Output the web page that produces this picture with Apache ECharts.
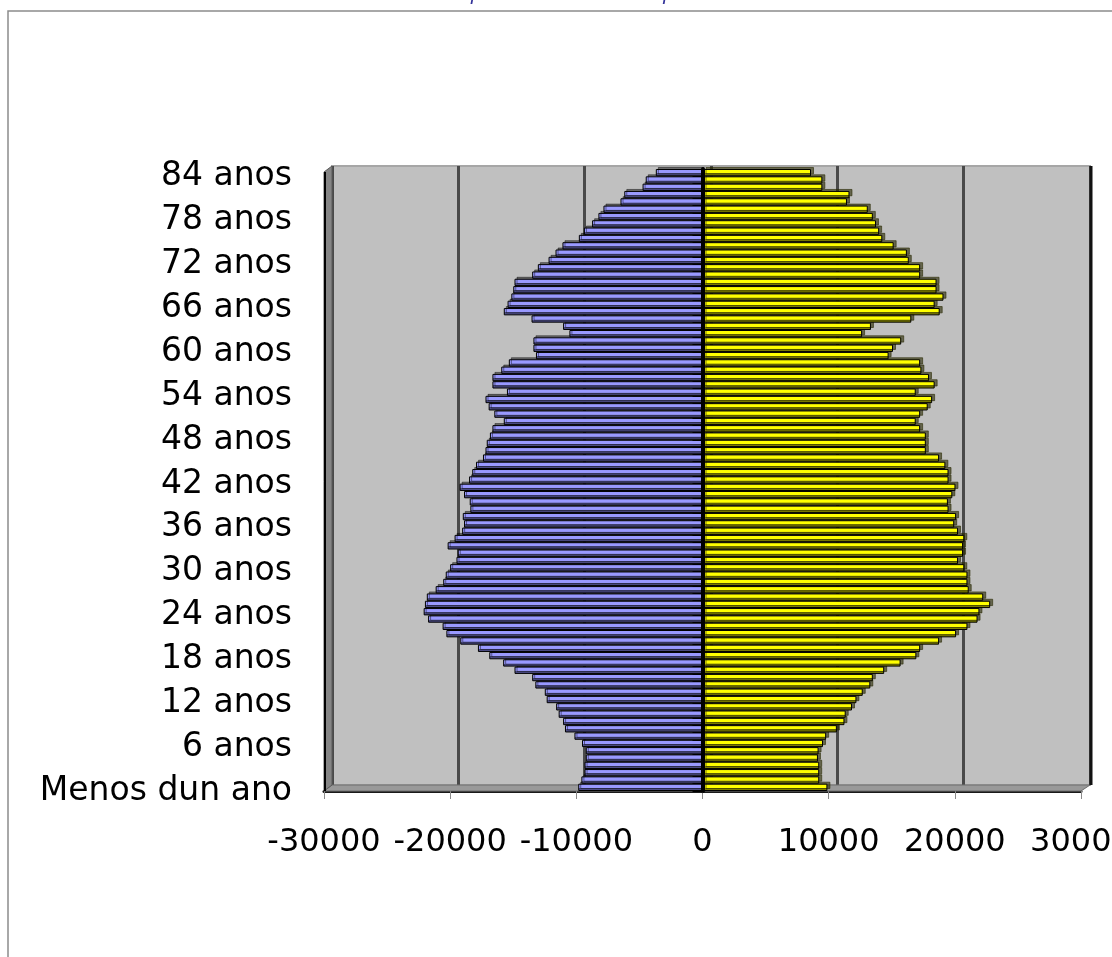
<!DOCTYPE html>
<html>
<head>
<meta charset="utf-8">
<script src="https://cdn.jsdelivr.net/npm/echarts@6/dist/echarts.min.js"></script>
<style>
html,body{margin:0;padding:0;background:#ffffff;}
#chart{width:1112px;height:957px;}
</style>
</head>
<body>
<div id="chart"></div>
<script>
// ---- DATA (index 0 = "Menos dun ano" ... index 84 = "84 anos") ----
const ageCategories = [];
for (let i = 0; i <= 84; i++) {
  ageCategories.push(i === 0 ? 'Menos dun ano' : (i === 1 ? '1 ano' : i + ' anos'));
}

// Homes (blue, drawn to the left as negative values)
const homes = [
  -9850, -9600, -9350, -9350, -9250, -9250, -9550, -10150, -10900, -11050,
  -11400, -11600, -12350, -12500, -13250, -13500, -14900, -15800, -16900, -17800,
  -19200, -20300, -20600, -21750, -22100, -22000, -21850, -21150, -20550, -20350,
  -20000, -19500, -19400, -20200, -19650, -19050, -18900, -19000, -18400, -18450,
  -18900, -19250, -18500, -18250, -17950, -17400, -17200, -17100, -16850, -16650,
  -15750, -16500, -16950, -17200, -15500, -16650, -16650, -15950, -15350, -13200,
  -13400, -13400, -10550, -11050, -13550, -15750, -15450, -15150, -15000, -14900,
  -13500, -13050, -12200, -11650, -11100, -9800, -9400, -8750, -8250, -7850,
  -6500, -6200, -4750, -4500, -3700
];

// Mulleres (yellow, drawn to the right)
const mulleres = [
  9900, 9250, 9250, 9250, 9150, 9200, 9550, 9800, 10650, 11250,
  11350, 11850, 12200, 12700, 13300, 13500, 14400, 15700, 16950, 17250,
  18750, 20100, 21000, 21800, 21950, 22800, 22250, 21100, 21000, 21000,
  20750, 20250, 20650, 20650, 20750, 20250, 19950, 20100, 19500, 19450,
  19800, 20050, 19500, 19500, 19250, 18750, 17700, 17700, 17700, 17250,
  16900, 17250, 17850, 18200, 16900, 18400, 17950, 17350, 17250, 14750,
  15100, 15750, 12650, 13350, 16550, 18800, 18400, 19100, 18550, 18550,
  17250, 17250, 16350, 16200, 15150, 14250, 14000, 13750, 13500, 13100,
  11450, 11650, 9500, 9500, 8600
];

const xMin = -30000;
const xMax = 30000;
const xStep = 10000;
const titleText = 'Pirámide de poboación de Galicia por idade e sexo';

// ---- LAYOUT (3D-like Excel look: front plane and back wall) ----
const FRONT = {left: 324, top: 169, width: 757, height: 622};
const BACK = {left: 332, top: 166, width: 758, height: 619};
const LABELS = {left: 324, top: 173, width: 757, height: 622};
const fB = FRONT.top + FRONT.height;      // front bottom
const bB = BACK.top + BACK.height;        // back bottom
const fR = FRONT.left + FRONT.width;
const bR = BACK.left + BACK.width;
const FONT = 'DejaVu Sans';

function grad(light, dark) {
  return {
    type: 'linear', x: 0, y: 0, x2: 0, y2: 1,
    colorStops: [
      {offset: 0, color: light},
      {offset: 0.58, color: light},
      {offset: 0.58, color: dark},
      {offset: 1, color: dark}
    ]
  };
}

const chart = echarts.init(document.getElementById('chart'), null, {renderer: 'canvas'});

const option = {
  animation: false,
  backgroundColor: '#ffffff',
  grid: [
    {left: BACK.left, top: BACK.top, width: BACK.width, height: BACK.height,
     show: true, backgroundColor: '#C0C0C0', borderColor: '#A6A6A6', borderWidth: 2,
     containLabel: false, outerBoundsMode: 'none'},
    {left: FRONT.left, top: FRONT.top, width: FRONT.width, height: FRONT.height,
     containLabel: false, outerBoundsMode: 'none'},
    {left: LABELS.left, top: LABELS.top, width: LABELS.width, height: LABELS.height,
     containLabel: false, outerBoundsMode: 'none'}
  ],
  xAxis: [
    {gridIndex: 0, type: 'value', min: xMin, max: xMax, interval: xStep,
     axisLine: {show: false}, axisTick: {show: false}, axisLabel: {show: false},
     splitLine: {show: true, lineStyle: {color: '#4a4a4a', width: 3}}},
    {gridIndex: 1, type: 'value', min: xMin, max: xMax, interval: xStep,
     axisLine: {show: true, onZero: false, lineStyle: {color: '#1a1a1a', width: 3}},
     axisTick: {show: true, length: 8, lineStyle: {color: '#8a8a8a', width: 1}},
     axisLabel: {show: true, fontSize: 32, fontFamily: FONT, color: '#000000', margin: 36,
                 hideOverlap: false, showMinLabel: true, showMaxLabel: true,
                 formatter: function (v) { return String(v); }},
     splitLine: {show: false}},
    {gridIndex: 2, type: 'value', min: xMin, max: xMax, show: false}
  ],
  yAxis: [
    {gridIndex: 0, type: 'category', data: ageCategories, show: false},
    {gridIndex: 1, type: 'category', data: ageCategories, position: 'right', z: 10,
     axisLine: {show: true, onZero: true, lineStyle: {color: '#000000', width: 4}},
     axisTick: {show: true, inside: true, interval: 0, length: 10, lineStyle: {color: '#000000', width: 1}},
     axisLabel: {show: false}, splitLine: {show: false}},
    {gridIndex: 2, type: 'category', data: ageCategories, position: 'left',
     axisLine: {show: false, onZero: false}, axisTick: {show: false},
     axisLabel: {show: true, interval: 5, fontSize: 33, fontFamily: FONT, color: '#000000', margin: 32},
     splitLine: {show: false}}
  ],
  series: [
    {name: 'Homes', type: 'bar', xAxisIndex: 1, yAxisIndex: 1, stack: 'pir',
     barCategoryGap: '0%', data: homes,
     itemStyle: {color: grad('#9999FF', '#4D4D85'), borderColor: '#000000', borderWidth: 1,
                 shadowColor: 'rgba(0,0,0,0.45)', shadowOffsetX: 2, shadowOffsetY: -2, shadowBlur: 0},
     emphasis: {disabled: true}},
    {name: 'Mulleres', type: 'bar', xAxisIndex: 1, yAxisIndex: 1, stack: 'pir',
     barCategoryGap: '0%', data: mulleres,
     itemStyle: {color: grad('#FFFF00', '#808000'), borderColor: '#000000', borderWidth: 1,
                 shadowColor: 'rgba(40,40,0,0.6)', shadowOffsetX: 3, shadowOffsetY: -2, shadowBlur: 0},
     emphasis: {disabled: true}}
  ],
  graphic: [
    // outer frame
    {type: 'rect', z: 0, silent: true,
     shape: {x: 8, y: 11, width: 1300, height: 1100},
     style: {fill: 'none', stroke: '#8c8c8c', lineWidth: 1.5}},
    // title (mostly outside the visible area)
    {type: 'text', z: 5, silent: true, x: 585, y: -6,
     style: {text: titleText, font: 'italic 20px "Liberation Sans"', fill: '#33339A',
             align: 'center', verticalAlign: 'middle', textAlign: 'center', textVerticalAlign: 'middle'}},
    // floor
    {type: 'polygon', z: 1, silent: true,
     shape: {points: [[FRONT.left, fB], [BACK.left, bB], [bR, bB], [fR, fB]]},
     style: {fill: '#999999', stroke: '#6e6e6e', lineWidth: 1}},
    // left wall
    {type: 'polygon', z: 1, silent: true,
     shape: {points: [[FRONT.left, FRONT.top + 3], [BACK.left, BACK.top], [BACK.left, bB], [FRONT.left, fB]]},
     style: {fill: '#858585', stroke: '#5a5a5a', lineWidth: 1}},
    {type: 'line', z: 1, silent: true,
     shape: {x1: FRONT.left + 1, y1: FRONT.top + 3, x2: FRONT.left + 1, y2: fB},
     style: {stroke: '#000000', lineWidth: 2}},
    // right edge of back wall
    {type: 'line', z: 1, silent: true,
     shape: {x1: bR + 1, y1: BACK.top, x2: bR + 1, y2: bB},
     style: {stroke: '#111111', lineWidth: 3}}
  ]
};

chart.setOption(option);
</script>
</body>
</html>
